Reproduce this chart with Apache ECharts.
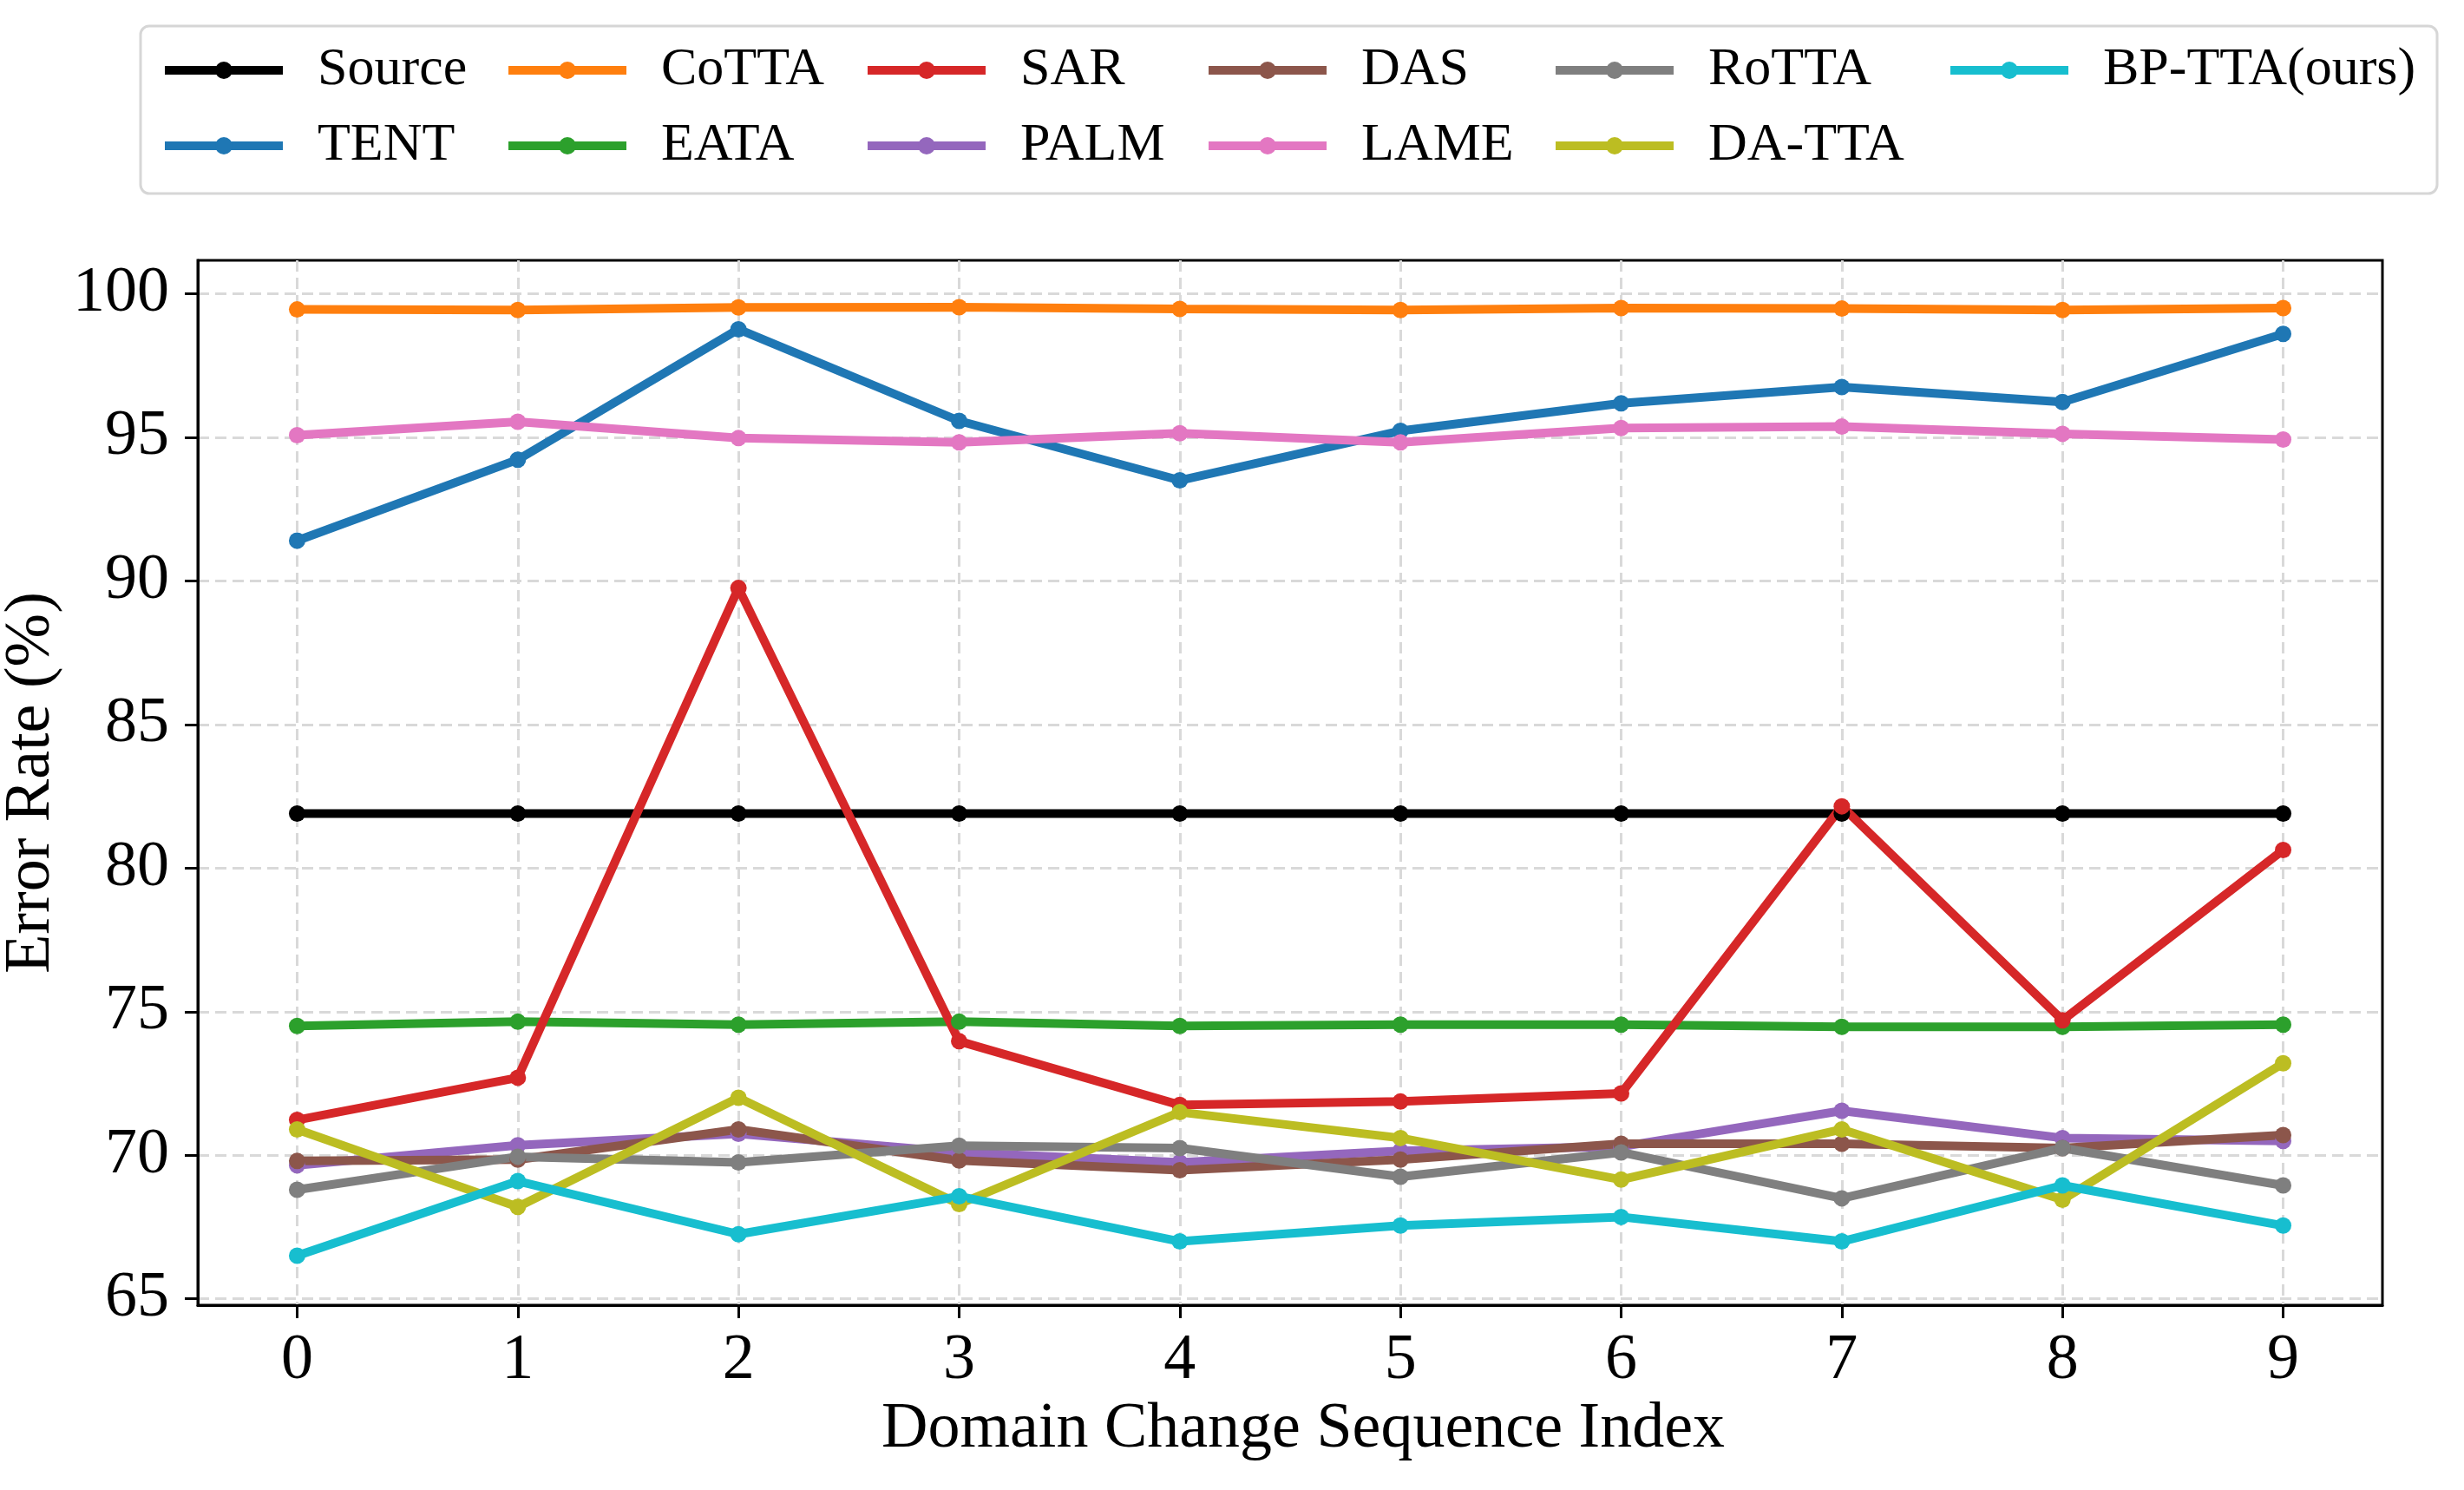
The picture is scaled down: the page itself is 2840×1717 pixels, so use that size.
<!DOCTYPE html>
<html>
<head>
<meta charset="utf-8">
<script src="https://cdn.jsdelivr.net/npm/echarts@6/dist/echarts.min.js"></script>
<style>
  html, body { margin: 0; padding: 0; background: #fff; }
  #chart { width: 2840px; height: 1717px; }
</style>
</head>
<body>
<div id="chart"></div>
<script>
// x positions (domain change index) and y tick values
const indices = [0, 1, 2, 3, 4, 5, 6, 7, 8, 9];
const yTicks = [65, 70, 75, 80, 85, 90, 95, 100];

// error rate (%) per method
const source = [81.9, 81.9, 81.9, 81.9, 81.9, 81.9, 81.9, 81.9, 81.9, 81.9];
const tent = [91.4, 94.22, 98.76, 95.57, 93.5, 95.22, 96.18, 96.75, 96.23, 98.6];
const cotta = [99.45, 99.43, 99.52, 99.53, 99.47, 99.43, 99.5, 99.48, 99.43, 99.5];
const eata = [74.5, 74.65, 74.55, 74.65, 74.5, 74.55, 74.55, 74.47, 74.47, 74.55];
const sar = [71.23, 72.7, 89.75, 73.97, 71.75, 71.87, 72.15, 82.15, 74.7, 80.63];
const palm = [69.65, 70.35, 70.75, 70.1, 69.75, 70.15, 70.3, 71.55, 70.6, 70.5];
const das = [69.8, 69.85, 70.9, 69.82, 69.48, 69.85, 70.4, 70.4, 70.25, 70.7];
const lame = [95.07, 95.54, 94.97, 94.82, 95.14, 94.82, 95.32, 95.37, 95.12, 94.92];
const rotta = [68.8, 69.95, 69.75, 70.33, 70.25, 69.25, 70.1, 68.5, 70.25, 68.95];
const datta = [70.9, 68.2, 72.0, 68.3, 71.5, 70.6, 69.15, 70.9, 68.45, 73.2];
const bptta = [66.5, 69.1, 67.25, 68.57, 67.0, 67.55, 67.85, 67.0, 68.95, 67.55];

const methods = [
  { name: "Source", color: "#000000", values: source },
  { name: "TENT", color: "#1f77b4", values: tent },
  { name: "CoTTA", color: "#ff7f0e", values: cotta },
  { name: "EATA", color: "#2ca02c", values: eata },
  { name: "SAR", color: "#d62728", values: sar },
  { name: "PALM", color: "#9467bd", values: palm },
  { name: "DAS", color: "#8c564b", values: das },
  { name: "LAME", color: "#e377c2", values: lame },
  { name: "RoTTA", color: "#7f7f7f", values: rotta },
  { name: "DA-TTA", color: "#bcbd22", values: datta },
  { name: "BP-TTA(ours)", color: "#17becf", values: bptta },
];

const FONT = "Liberation Serif";

// legend is laid out in 6 columns, 2 rows
const legendCols = [
  ["Source", "TENT"],
  ["CoTTA", "EATA"],
  ["SAR", "PALM"],
  ["DAS", "LAME"],
  ["RoTTA", "DA-TTA"],
  ["BP-TTA(ours)"],
];
const legendLeft = [185, 581, 995, 1388, 1788, 2243];

const chart = echarts.init(document.getElementById("chart"));

const option = {
  backgroundColor: "#ffffff",
  animation: false,
  graphic: [
    {
      type: "rect",
      z: 0,
      shape: { x: 162, y: 30, width: 2647, height: 193, r: 10 },
      style: { fill: "#ffffff", stroke: "#d6d6d6", lineWidth: 3 },
    },
  ],
  legend: legendCols.map((col, i) => ({
    data: col,
    orient: "vertical",
    left: legendLeft[i],
    top: 46,
    padding: 0,
    itemGap: 17,
    itemWidth: 136,
    itemHeight: 25,
    selectedMode: false,
    lineStyle: { width: 10 },
    textStyle: {
      fontFamily: FONT,
      fontSize: 62,
      lineHeight: 70,
      color: "#000",
      padding: [0, 0, 0, 35],
    },
  })),
  grid: {
    left: 228,
    right: 94,
    top: 300,
    bottom: 213,
    outerBoundsMode: "none",
    containLabel: false,
    show: true,
    borderColor: "#000",
    borderWidth: 3,
    backgroundColor: "transparent",
  },
  xAxis: {
    type: "value",
    min: -0.45,
    max: 9.45,
    name: "Domain Change Sequence Index",
    nameLocation: "middle",
    nameGap: 106,
    nameTextStyle: { fontFamily: FONT, fontSize: 74, color: "#000", padding: [0, 0, 0, 30] },
    axisLine: { show: true, onZero: false, lineStyle: { color: "#000", width: 3 } },
    axisTick: {
      show: true,
      length: 15,
      customValues: indices,
      lineStyle: { color: "#000", width: 3 },
    },
    axisLabel: {
      customValues: indices,
      margin: 28,
      fontFamily: FONT,
      fontSize: 74,
      color: "#000",
    },
    splitLine: {
      show: true,
      lineStyle: { color: "#d9d9d9", width: 3, type: [13, 7] },
    },
  },
  yAxis: {
    type: "value",
    min: 64.78,
    max: 101.16,
    name: "Error Rate (%)",
    nameLocation: "middle",
    nameRotate: 90,
    nameGap: 152,
    nameTextStyle: { fontFamily: FONT, fontSize: 74, color: "#000" },
    axisLine: { show: true, onZero: false, lineStyle: { color: "#000", width: 3 } },
    axisTick: {
      show: true,
      length: 15,
      customValues: yTicks,
      lineStyle: { color: "#000", width: 3 },
    },
    axisLabel: {
      customValues: yTicks,
      margin: 33,
      fontFamily: FONT,
      fontSize: 74,
      color: "#000",
    },
    splitLine: {
      show: true,
      lineStyle: { color: "#d9d9d9", width: 3, type: [13, 7] },
    },
  },
  series: methods.map((m) => ({
    name: m.name,
    type: "line",
    data: indices.map((x, i) => [x, m.values[i]]),
    symbol: "circle",
    symbolSize: 19,
    color: m.color,
    lineStyle: { width: 10, color: m.color },
    itemStyle: { color: m.color },
    emphasis: { disabled: true },
  })),
};

chart.setOption(option);
window.onresize = chart.resize;
</script>
</body>
</html>
